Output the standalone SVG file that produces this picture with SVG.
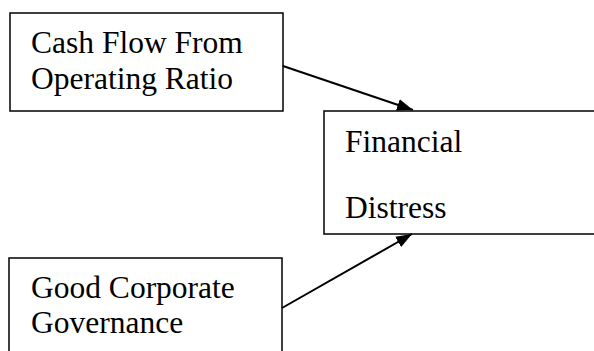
<svg xmlns="http://www.w3.org/2000/svg" width="594" height="351" viewBox="0 0 594 351">
<style>
.box{fill:#fff;stroke:#000;stroke-width:1.5}
.t{font-family:"Liberation Serif","Times New Roman",serif;font-size:31.5px;fill:#000}
.c{stroke:#000;stroke-width:2;fill:none}
</style>
<defs>
<marker id="ah" viewBox="0 0 16 12" refX="16" refY="6" markerWidth="16" markerHeight="12" markerUnits="userSpaceOnUse" orient="auto">
<path d="M0,0 L16,6 L0,12 Z" fill="#000"/>
</marker>
</defs>
<rect width="594" height="351" fill="#fff"/>
<g id="node-cashflow">
<rect class="box" x="10" y="13" width="273" height="98"/>
<text class="t" x="31" y="53">Cash Flow From</text>
<text class="t" x="31" y="89">Operating Ratio</text>
</g>
<g id="node-distress">
<rect class="box" x="324" y="111" width="290" height="123"/>
<text class="t" x="345" y="152">Financial</text>
<text class="t" x="345" y="218">Distress</text>
</g>
<g id="node-gcg">
<rect class="box" x="9" y="258" width="273" height="110"/>
<text class="t" x="31" y="298">Good Corporate</text>
<text class="t" x="31" y="333">Governance</text>
</g>
<g id="connectors">
<line class="c" x1="283" y1="66" x2="413" y2="110" marker-end="url(#ah)"/>
<line class="c" x1="282" y1="308" x2="412" y2="234" marker-end="url(#ah)"/>
</g>
</svg>
